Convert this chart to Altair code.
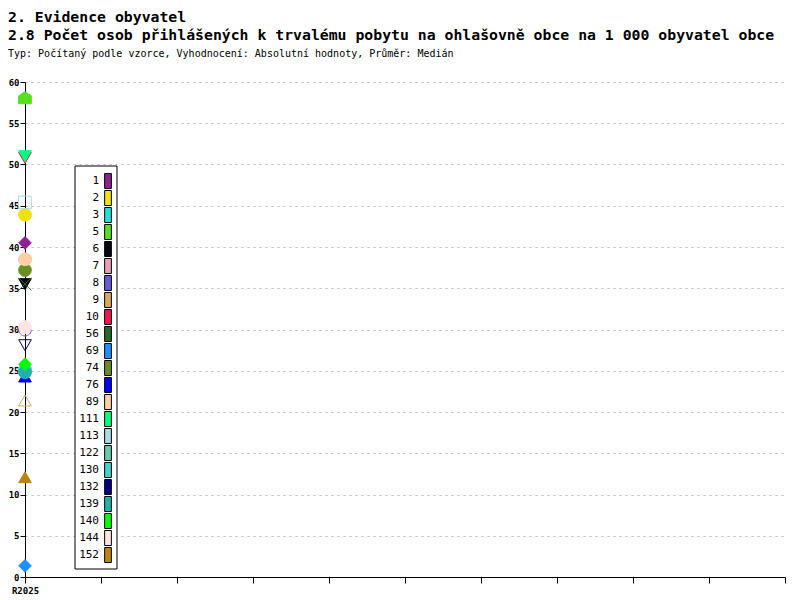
import altair as alt
import pandas as pd

# ---- data ----
periods = ["R2025"]
series = ["1", "2", "3", "5", "6", "7", "8", "9", "10", "56", "69", "74", "76",
          "89", "111", "113", "122", "130", "132", "139", "140", "144", "152"]
values_2025 = [40.5, 43.9, 25.1, 58.05, 35.5, 38.5, 29.6, 21.4, 50.8, 35.5, 1.35, 37.2, 24.3,
               38.5, 51.0, 45.4, 24.9, 25.0, 28.1, 24.8, 25.8, 30.3, 12.1]

# ---- styles ----
colors = ["#8b2391", "#f0e010", "#20e0d8", "#55e020", "#050515", "#e8a0b8", "#6a5ad8",
          "#d8a860", "#f0184a", "#2a6a28", "#1e90ff", "#6b8e23", "#0000ff", "#ffd0a8",
          "#00ff80", "#add8e6", "#66cdaa", "#48d1cc", "#000080", "#20b2aa", "#00ff00",
          "#ffe4e1", "#b8860b"]
HOUSE = "M0,-1L1,-0.35L1,0.9L-1,0.9L-1,-0.35Z"
XMARK = "M-1,-1L1,1M-1,1L1,-1"
CUP = "M-1,-0.5A1,1 0 0 0 1,-0.5"
shapes = ["diamond", "circle", "circle", HOUSE, "triangle-down", "circle", CUP,
          "triangle-up", "triangle-down", XMARK, "diamond", "circle", "triangle-up",
          "circle", "triangle-down", "square", "circle", "circle", "triangle-down",
          "circle", "diamond", "circle", "triangle-up"]
open_series = {"8", "9", "56", "113", "132"}
fills = ["transparent" if s in open_series else c for s, c in zip(series, colors)]

pts = pd.DataFrame({
    "period": periods * len(series),
    "xpos": [0] * len(series),
    "series": series,
    "value": values_2025,
})
leg = pd.DataFrame({"series": series})
box = pd.DataFrame({"a": [0]})

MONO = "DejaVu Sans Mono"

points = alt.Chart(pts).mark_point(size=160, strokeWidth=1, opacity=1).encode(
    x=alt.X("xpos:Q", scale=alt.Scale(domain=[0, 10], nice=False),
            axis=alt.Axis(values=list(range(11)), labelExpr="datum.value == 0 ? 'R2025' : ''",
                          grid=False, tickSize=6, title=None, labelFlush=False,
                          domainColor="black", tickColor="black", labelColor="black",
                          labelFont=MONO, labelFontSize=9, labelFontWeight="bold",
                          labelPadding=3)),
    y=alt.Y("value:Q", scale=alt.Scale(domain=[0, 60], nice=False),
            axis=alt.Axis(values=list(range(0, 61, 5)), grid=True, gridDash=[2, 4],
                          gridColor="#b8b8b8", domainColor="black", tickColor="black",
                          tickSize=5, labelPadding=1, title=None, labelColor="black",
                          labelFont=MONO, labelFontSize=9, labelFontWeight="bold")),
    shape=alt.Shape("series:N", scale=alt.Scale(domain=series, range=shapes), legend=None),
    fill=alt.Fill("series:N", scale=alt.Scale(domain=series, range=fills), legend=None),
    stroke=alt.Stroke("series:N", scale=alt.Scale(domain=series, range=colors), legend=None),
    order=alt.Order("idx:Q"),
).transform_window(idx="row_number()")

legend_box = alt.Chart(box).mark_rect(fill="white", stroke="black", strokeWidth=1).encode(
    x=alt.value(50), x2=alt.value(92), y=alt.value(84), y2=alt.value(487)
)

leg_y = alt.Y("series:O", sort=series, axis=None,
              scale=alt.Scale(type="point", domain=series, range=[99, 473], padding=0))

swatches = alt.Chart(leg).mark_point(
    shape="M-0.45,-1H0.45V1H-0.45Z", size=225, filled=True, stroke="black",
    strokeWidth=1, opacity=1
).encode(
    x=alt.value(83),
    y=leg_y,
    color=alt.Color("series:N", scale=alt.Scale(domain=series, range=colors), legend=None),
)

labels = alt.Chart(leg).mark_text(align="right", baseline="middle", font=MONO,
                                  fontSize=11, color="black").encode(
    x=alt.value(74),
    y=leg_y,
    text="series:N",
)

chart = alt.layer(points, legend_box, swatches, labels).resolve_scale(
    y="independent"
).properties(
    width=760,
    height=495,
    autosize=alt.AutoSizeParams(type="none"),
    padding={"left": 17, "top": 74, "right": 6, "bottom": 20},
    title=alt.TitleParams(
        text=["2. Evidence obyvatel",
              "2.8 Počet osob přihlášených k trvalému pobytu na ohlašovně obce na 1 000 obyvatel obce"],
        subtitle="Typ: Počítaný podle vzorce, Vyhodnocení: Absolutní hodnoty, Průměr: Medián",
        anchor="start", frame="group", dx=-17, offset=19,
        font=MONO, fontSize=14.8, fontWeight="bold", lineHeight=18, color="black",
        subtitleFont=MONO, subtitleFontSize=10, subtitleColor="black", subtitlePadding=6,
    ),
).configure_view(stroke=None)

chart.save("out.html", embed_options={"renderer": "svg", "actions": False})
